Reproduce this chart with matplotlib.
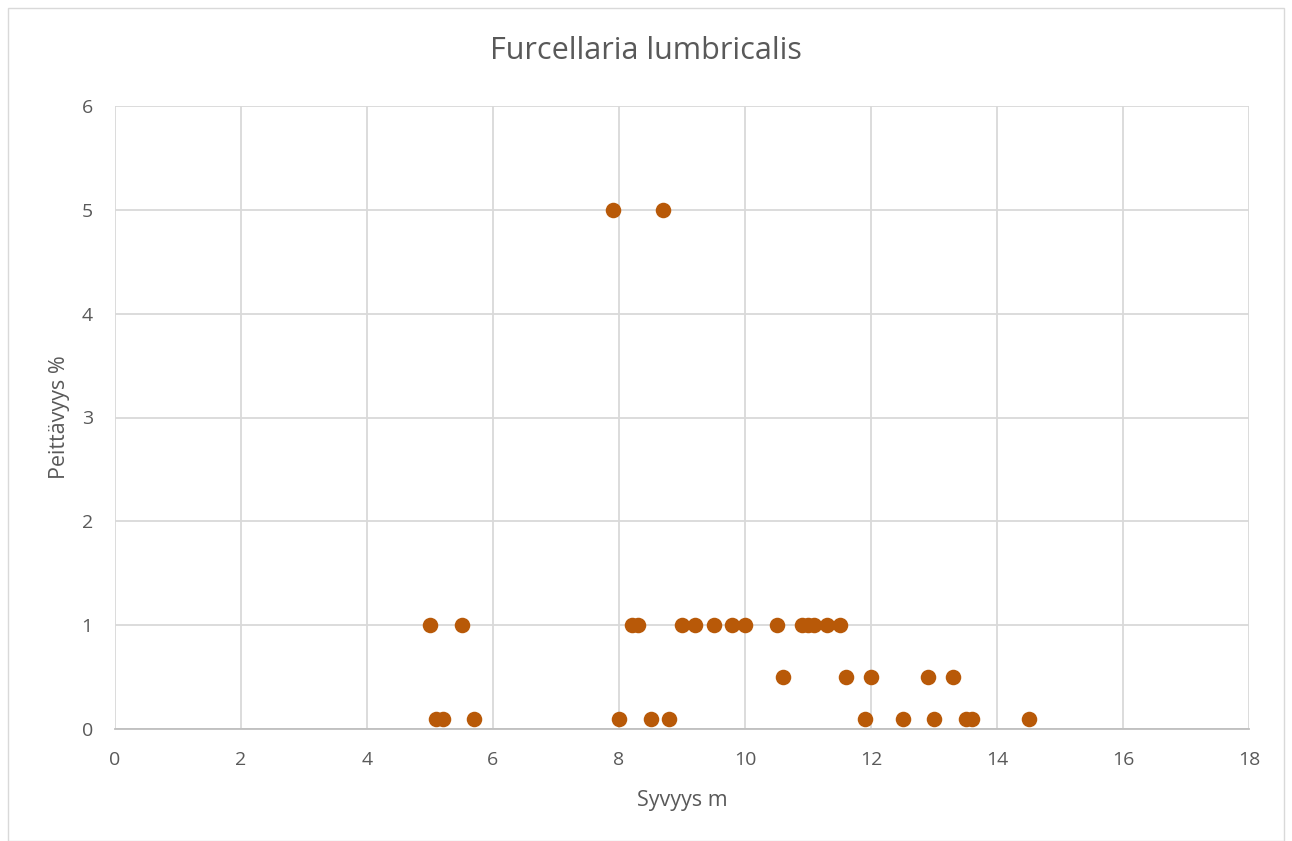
import matplotlib
matplotlib.use("Agg")
import matplotlib.pyplot as plt
from matplotlib.patches import Rectangle

title = "Furcellaria lumbricalis"
x_label = "Syvyys m"
y_label = "Peittävyys %"

depth = [5.0, 5.5, 8.2, 8.3, 9.0, 9.2, 9.5, 9.8, 10.0, 10.5, 10.9, 11.0, 11.1, 11.3, 11.5,
         5.1, 5.2, 5.7, 8.0, 8.5, 8.8, 11.9, 12.5, 13.0, 13.5, 13.6, 14.5,
         10.6, 11.6, 12.0, 12.9, 13.3,
         7.9, 8.7]
cover = [1, 1, 1, 1, 1, 1, 1, 1, 1, 1, 1, 1, 1, 1, 1,
         0.1, 0.1, 0.1, 0.1, 0.1, 0.1, 0.1, 0.1, 0.1, 0.1, 0.1, 0.1,
         0.5, 0.5, 0.5, 0.5, 0.5,
         5, 5]

x_ticks = list(range(0, 19, 2))
y_ticks = list(range(0, 7))

plt.rcParams['font.family'] = ['Open Sans', 'DejaVu Sans']

W, H = 1292, 841
fig = plt.figure(figsize=(W / 100, H / 100), dpi=100)
fig.patches.append(Rectangle((8 / W, 0), (W - 16) / W, (H - 8) / H, transform=fig.transFigure,
                             fill=False, edgecolor='#D9D9D9', linewidth=1.0))

ax = fig.add_axes([115 / W, 1 - 729 / H, (1249 - 115) / W, (729 - 106) / H])
ax.scatter(depth, cover, s=125, color='#B85908', linewidths=0, zorder=3, clip_on=False)

ax.set_xlim(0, 18)
ax.set_ylim(0, 6)
ax.set_xticks(x_ticks)
ax.set_yticks(y_ticks)
ax.grid(True, color='#D9D9D9', linewidth=1.3)
ax.set_axisbelow(True)
for s in ['top', 'right', 'left']:
    ax.spines[s].set_visible(False)
ax.spines['bottom'].set_color('#BFBFBF')
ax.spines['bottom'].set_linewidth(1.3)
ax.tick_params(axis='both', length=0, labelsize=14, labelcolor='#595959')
ax.tick_params(axis='x', pad=16)
ax.tick_params(axis='y', pad=16)

ax.set_xlabel(x_label, fontsize=15.5, color='#595959', labelpad=15)
ax.set_ylabel(y_label, fontsize=15.5, color='#595959', labelpad=8)
fig.text(0.5, 1 - 51 / H, title, ha='center', va='center', fontsize=22, color='#595959')

fig.savefig("out.png", dpi=100)
